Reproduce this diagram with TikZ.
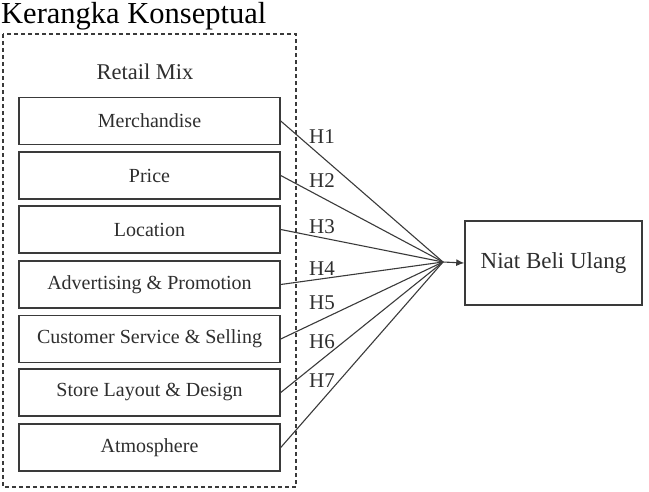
\documentclass[tikz,border=0pt]{standalone}
\usepackage{fontspec}
\setmainfont{Liberation Serif}
\usetikzlibrary{arrows.meta}
\definecolor{ink}{HTML}{3A3A3A}
\definecolor{txt}{HTML}{2E2E2E}
\begin{document}
\begin{tikzpicture}[x=1pt,y=-1pt,
  factor/.style={draw=ink,line width=1.5pt,minimum width=261pt,minimum height=47pt,
    inner sep=0pt,text=txt,font=\fontsize{20}{23}\selectfont},
  outcome/.style={draw=ink,line width=1.5pt,minimum width=177pt,minimum height=84pt,
    inner sep=0pt,text=txt,font=\fontsize{23}{27}\selectfont},
  hyp/.style={anchor=base west,inner sep=0pt,text=txt,font=\fontsize{21}{24}\selectfont},
  link/.style={draw=ink,line width=1.1pt},
  frame/.style={draw=ink,line width=1.1pt,dash pattern=on 4pt off 3pt}]
\useasboundingbox (0,0) rectangle (649,491);

% heading
\node[anchor=base west,inner sep=0pt,text=black,font=\fontsize{30.5}{35}\selectfont]
  (title) at (1,23.5) {Kerangka Konseptual};

% dashed group of retail-mix factors
\draw[frame] (3,34) rectangle (296,487);
\node[text=txt,font=\fontsize{22.5}{26}\selectfont] (group) at (145,72) {Retail Mix};

\node[factor] (f1) at (149.5,121)   {Merchandise};
\node[factor] (f2) at (149.5,175.5) {Price};
\node[factor] (f3) at (149.5,229.5) {Location};
\node[factor] (f4) at (149.5,284.5) {Advertising \& Promotion};
\node[factor] (f5) at (149.5,339)   {Customer Service \& Selling};
\node[factor] (f6) at (149.5,392.5) {Store Layout \& Design};
\node[factor] (f7) at (149.5,447.5) {Atmosphere};

% dependent variable
\node[outcome] (y) at (553.5,263) {Niat Beli Ulang};

% convergence point
\coordinate (m) at (443,262);
\foreach \i in {1,...,7} \draw[link] (f\i.east) -- (m);
\draw[link,-{Latex[length=8pt,width=7pt]}] (m) -- (y.west);

% hypothesis labels
\node[hyp] (h1) at (309,143) {H1};
\node[hyp] (h2) at (309,187) {H2};
\node[hyp] (h3) at (309,233) {H3};
\node[hyp] (h4) at (309,275) {H4};
\node[hyp] (h5) at (309,309) {H5};
\node[hyp] (h6) at (309,348) {H6};
\node[hyp] (h7) at (309,387) {H7};
\end{tikzpicture}
\end{document}
